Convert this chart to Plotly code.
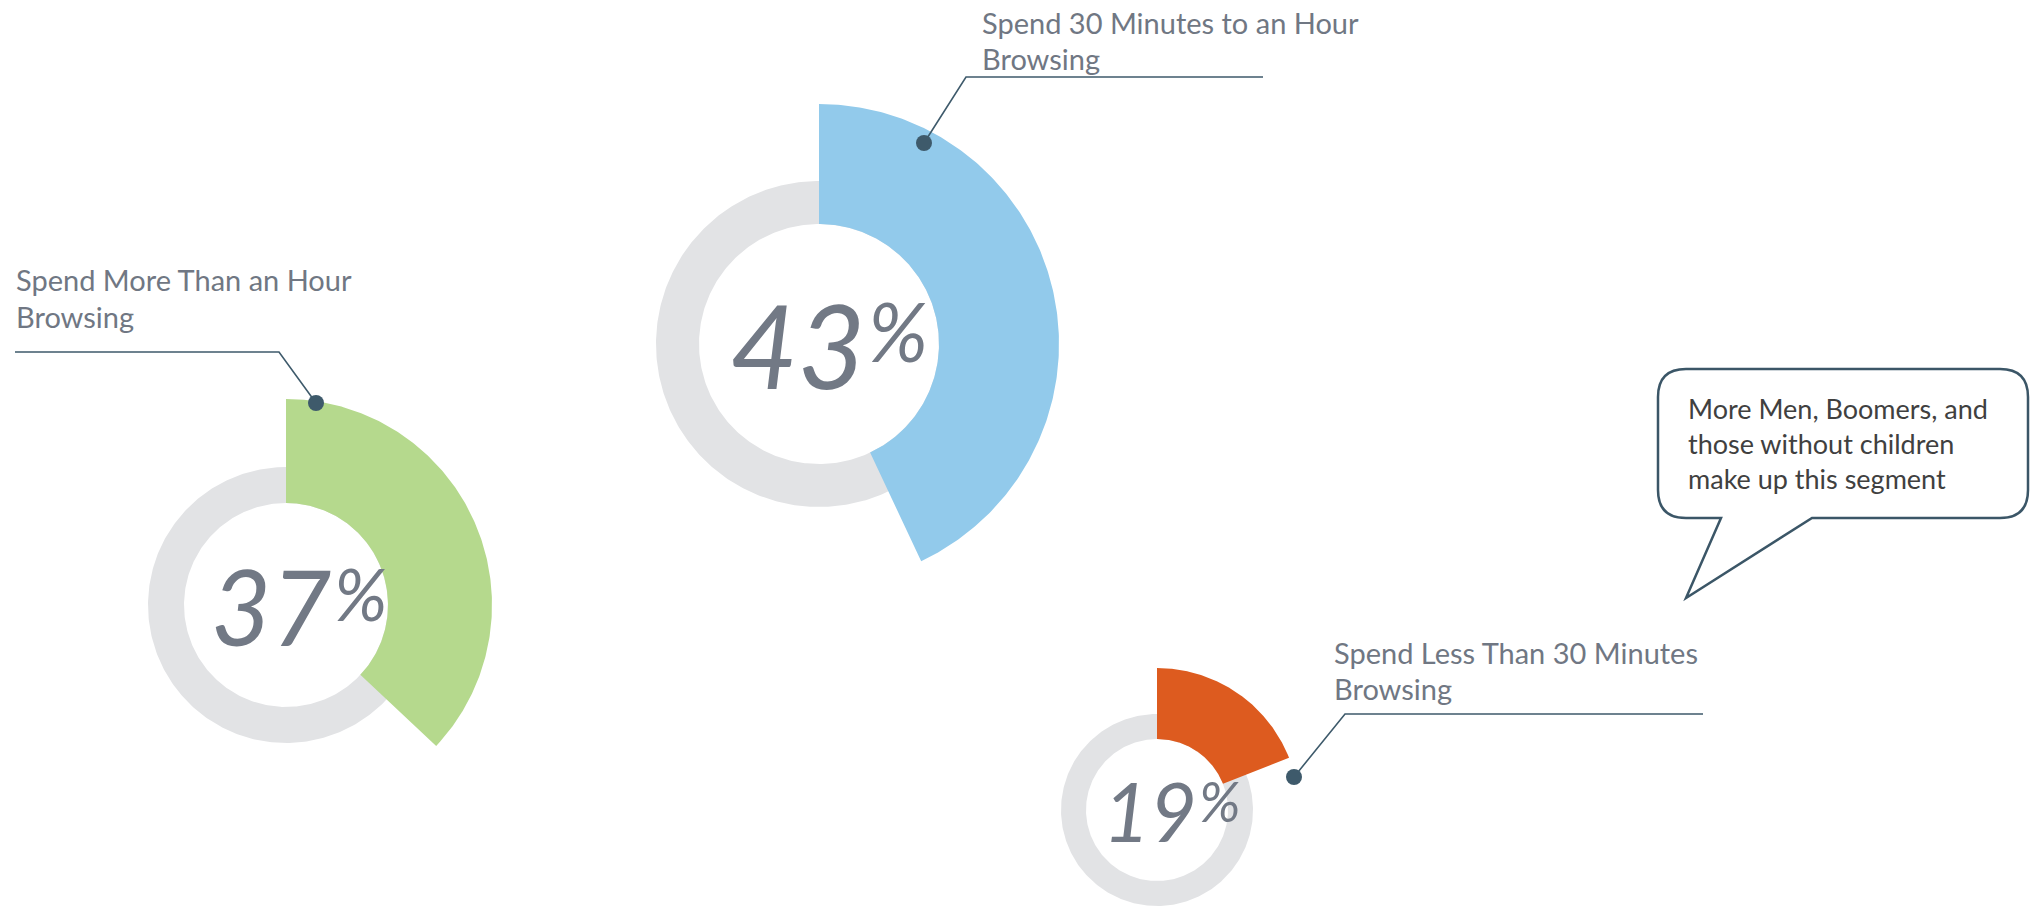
import numpy as np
import plotly.graph_objects as go

W, H = 2037, 906

# ---- data -------------------------------------------------------------
segments = [
    "Spend More Than an Hour Browsing",
    "Spend 30 Minutes to an Hour Browsing",
    "Spend Less Than 30 Minutes Browsing",
]
label_first_lines = ["Spend More Than an Hour", "Spend 30 Minutes to an Hour", "Spend Less Than 30 Minutes"]
label_second_lines = ["Browsing", "Browsing", "Browsing"]
shares = [37, 43, 19]  # percent of respondents
callout_lines = ["More Men, Boomers, and", "those without children", "make up this segment"]

# ---- layout / style ---------------------------------------------------
centers = [(286, 605), (819, 344), (1157, 810)]
r_hole = [102, 120, 71]
r_track = [138, 163, 96]
r_arc = [206, 240, 142]
arc_colors = ["#B5D98D", "#92CAEB", "#DD5B1F"]
track_color = "#E2E3E5"
pct_font_size = [104, 117, 81]
digits_right_dx = [47, 48, 41]   # right edge of the number, from ring centre
sign_left_dx = [47, 48, 41]      # left edge of the % sign, from ring centre
label_anchor = [(15, 290, 327), (981, 33, 69), (1333, 663, 699)]
leader_paths = [
    [(316, 403), (279, 352), (15, 352)],
    [(924, 143), (966, 77), (1263, 77)],
    [(1294, 777), (1345, 714), (1703, 714)],
]
text_grey = "#707783"
pct_grey = "#727985"
leader_color = "#3E5A6B"
label_size = 29

FONT = "Lato"


def annular_sector(cx, cy, r0, r1, a0, a1, n=240):
    """Polygon of a ring sector; angles in degrees, clockwise from 12 o'clock."""
    t = np.radians(np.linspace(a0, a1, n))
    xo, yo = cx + r1 * np.sin(t), cy - r1 * np.cos(t)
    xi, yi = cx + r0 * np.sin(t[::-1]), cy - r0 * np.cos(t[::-1])
    return np.r_[xo, xi, xo[:1]], np.r_[yo, yi, yo[:1]]


fig = go.Figure()

for i, share in enumerate(shares):
    cx, cy = centers[i]
    # background track
    tx, ty = annular_sector(cx, cy, r_hole[i], r_track[i], 0, 360, 400)
    fig.add_trace(go.Scatter(x=tx, y=ty, mode="lines", fill="toself",
                             fillcolor=track_color, line=dict(width=0),
                             hoverinfo="skip", showlegend=False))
    # share arc
    sx, sy = annular_sector(cx, cy, r_hole[i], r_arc[i], 0, share * 3.6)
    fig.add_trace(go.Scatter(x=sx, y=sy, mode="lines", fill="toself",
                             fillcolor=arc_colors[i], line=dict(width=0),
                             name=segments[i], hoverinfo="name", showlegend=False))

    # leader line and dot
    pts = leader_paths[i]
    fig.add_trace(go.Scatter(x=[p[0] for p in pts], y=[p[1] for p in pts], mode="lines",
                             line=dict(color=leader_color, width=1.6),
                             hoverinfo="skip", showlegend=False))
    fig.add_trace(go.Scatter(x=[pts[0][0]], y=[pts[0][1]], mode="markers",
                             marker=dict(size=16, color=leader_color),
                             hoverinfo="skip", showlegend=False))

    # segment label (two lines)
    lx, b1, b2 = label_anchor[i]
    for txt, base in ((label_first_lines[i], b1), (label_second_lines[i], b2)):
        fig.add_annotation(x=lx, y=base - 0.36 * label_size, text=txt, showarrow=False,
                           xanchor="left", yanchor="middle", borderpad=0,
                           font=dict(family=FONT, size=label_size, color=text_grey))

    # big percentage figure with raised percent sign
    fs = pct_font_size[i]
    digit_mid = cy
    fig.add_annotation(x=cx + digits_right_dx[i], y=digit_mid, text=str(share), showarrow=False,
                       xanchor="right", yanchor="middle", borderpad=0,
                       font=dict(family=FONT, size=fs, color=pct_grey, style="italic"))
    ps = fs * 0.69
    digit_top = digit_mid - 0.36 * fs
    fig.add_annotation(x=cx + sign_left_dx[i], y=digit_top + 0.36 * ps, text="%", showarrow=False,
                       xanchor="left", yanchor="middle", borderpad=0,
                       font=dict(family=FONT, size=ps, color=pct_grey, style="italic"))

# speech bubble callout
L, R, T, B, rc = 1658, 2028, 369, 518, 28
tail_a, tail_b, tip = 1721, 1812, (1686, 598)
bubble = (f"M {L+rc},{T} H {R-rc} Q {R},{T} {R},{T+rc} V {B-rc} Q {R},{B} {R-rc},{B} "
          f"H {tail_b} L {tip[0]},{tip[1]} L {tail_a},{B} H {L+rc} Q {L},{B} {L},{B-rc} "
          f"V {T+rc} Q {L},{T} {L+rc},{T} Z")
fig.add_shape(type="path", path=bubble, xref="x", yref="y",
              line=dict(color="#3B5667", width=2.5), fillcolor="white")
callout_size = 27
for k, line in enumerate(callout_lines):
    base = 418 + 35 * k
    fig.add_annotation(x=1687, y=base - 0.36 * callout_size, text=line, showarrow=False,
                       xanchor="left", yanchor="middle", borderpad=0,
                       font=dict(family=FONT, size=callout_size, color="#404040"))

fig.update_layout(
    width=W, height=H,
    margin=dict(l=0, r=0, t=0, b=0),
    paper_bgcolor="white", plot_bgcolor="white",
    xaxis=dict(range=[0, W], visible=False, fixedrange=True),
    yaxis=dict(range=[H, 0], visible=False, fixedrange=True),
    showlegend=False,
)

fig.write_html("out.html")
